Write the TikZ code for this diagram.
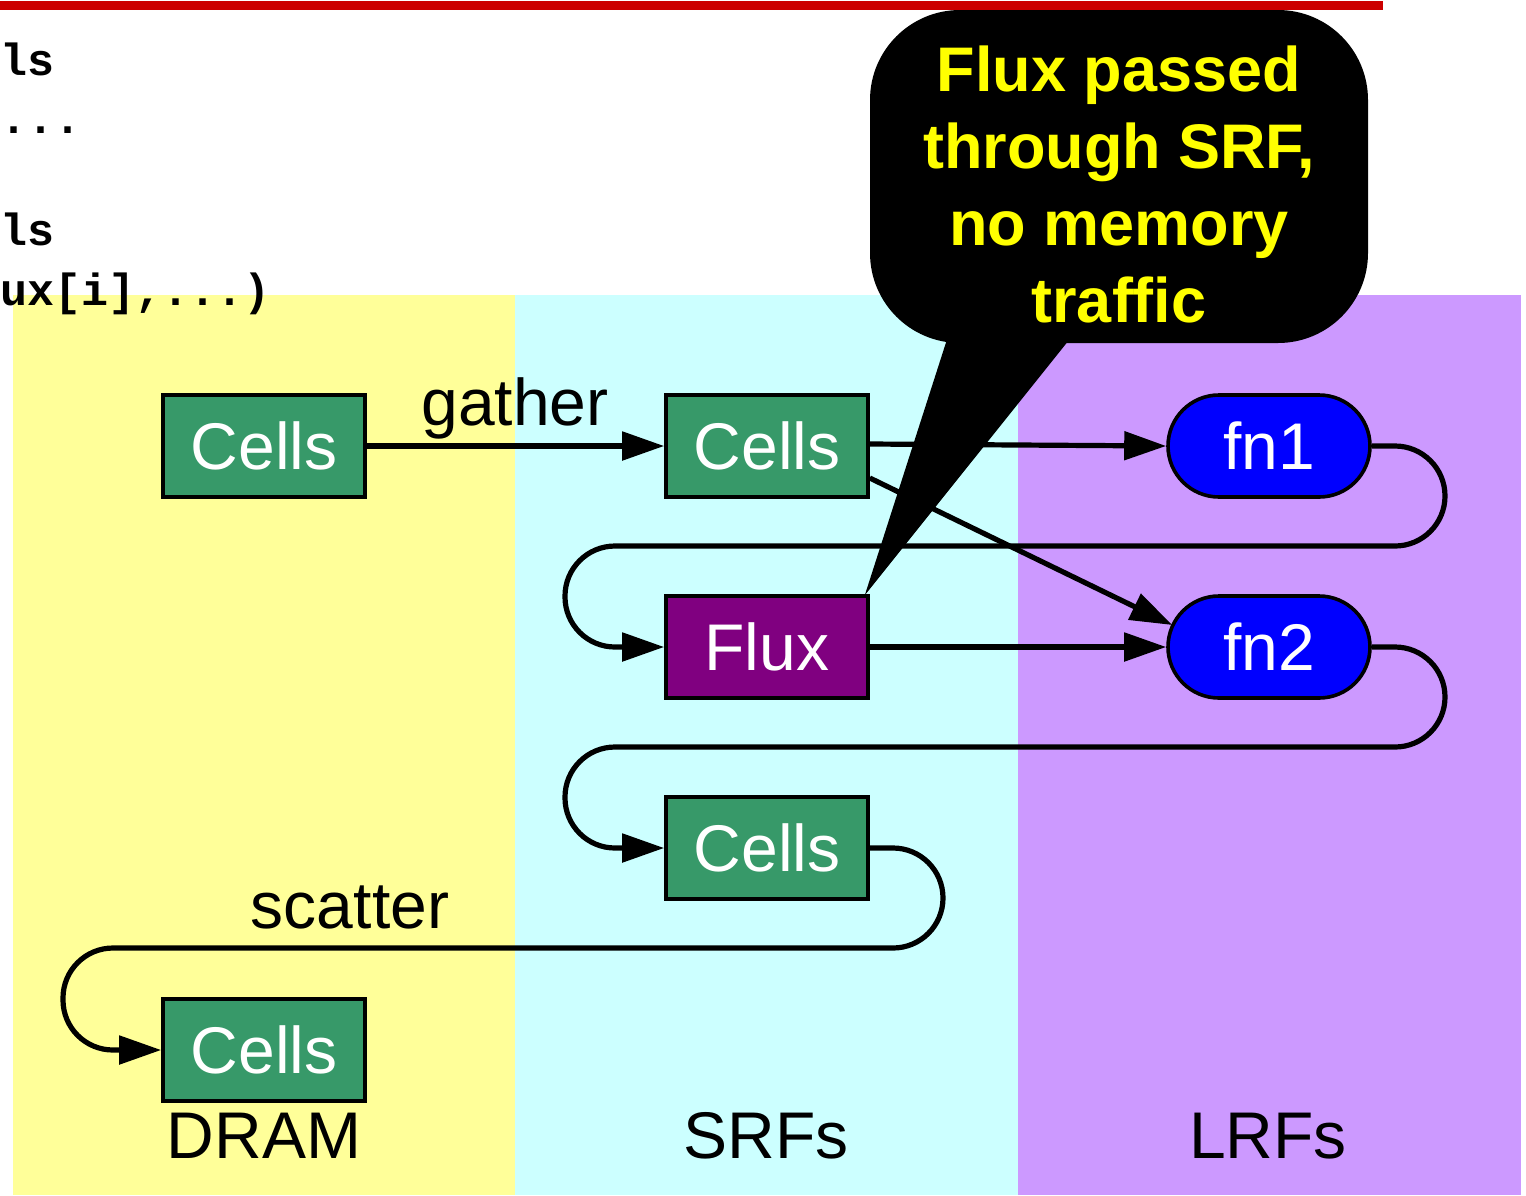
\documentclass[tikz,border=0pt]{standalone}
\usepackage{fontspec}
\setmainfont{Liberation Sans}
\newfontfamily\codefont{Liberation Mono}
\usetikzlibrary{arrows.meta,calc,shapes.misc}
\definecolor{redline}{HTML}{CC0000}
\definecolor{dramcol}{HTML}{FFFF99}
\definecolor{srfcol}{HTML}{CCFFFF}
\definecolor{lrfcol}{HTML}{CC99FF}
\definecolor{cellcol}{HTML}{379969}
\definecolor{fluxcol}{HTML}{800080}
\definecolor{fncol}{HTML}{0000FF}
\definecolor{notetext}{HTML}{FFFF00}
\tikzset{
  box/.style={draw=black, line width=1.8pt, minimum width=101pt, minimum height=51pt,
    inner sep=0pt, text=white, font=\fontsize{33}{40}\selectfont},
  cellbox/.style={box, fill=cellcol},
  fluxbox/.style={box, fill=fluxcol},
  fnbox/.style={box, fill=fncol, rounded rectangle},
  lbl/.style={font=\fontsize{33}{40}\selectfont, inner sep=0pt, anchor=base},
  code/.style={font=\codefont\bfseries\fontsize{22.5}{26}\selectfont, inner sep=0pt, anchor=base west},
  conn/.style={line width=2.6pt, -{Triangle[length=21pt,width=14pt]}, rounded corners=25pt},
  notefont/.style={font=\bfseries\fontsize{31.5}{38.5}\selectfont, text=notetext, align=center, inner sep=0pt}
}
\begin{document}
\begin{tikzpicture}[x=0.5pt,y=-0.5pt]
\useasboundingbox (0,0) rectangle (1526,1195);
\clip (0,0) rectangle (1526,1195);
\fill[white] (0,0) rectangle (1526,1195);
% columns
\fill[dramcol] (13,295) rectangle (515,1195);
\fill[srfcol] (515,295) rectangle (1018,1195);
\fill[lrfcol] (1018,295) rectangle (1521,1195);
% code fragments
\node[code] (code1) at (0,75) {ls};
\node[code] (code2) at (0,133) {...};
\node[code] (code3) at (0,245) {ls};
\node[code] (code4) at (0,305) {ux[i],...)};
% nodes
\node[cellbox] (d1) at (264,446) {Cells};
\node[cellbox] (s1) at (767,446) {Cells};
\node[fluxbox] (flux) at (767,647) {Flux};
\node[cellbox] (s3) at (767,848) {Cells};
\node[cellbox] (d2) at (264,1050) {Cells};
\node[fnbox] (fn1) at (1269,446) {fn1};
\node[fnbox] (fn2) at (1269,647) {fn2};
% labels
\node[lbl] (gather) at (515,425) {gather};
\node[lbl] (scatter) at (350,928) {scatter};
\node[lbl] (dram) at (264,1158) {DRAM};
\node[lbl] (srfs) at (766,1158) {SRFs};
\node[lbl] (lrfs) at (1268,1158) {LRFs};
% connectors
\draw[conn] (d1.east) -- (s1.west);
\draw[conn] ($(s1.east)+(0,-2)$) -- (fn1.west);
\draw[conn, rounded corners=0pt] ($(s1.east)+(0,32)$) -- ($(fn2.west)+(6,-22)$);
\draw[conn] (flux.east) -- (fn2.west);
\draw[conn] (fn1.east) -- (1445,446) -- (1445,546) -- (565,546) -- (565,647) -- (flux.west);
\draw[conn] (fn2.east) -- (1445,647) -- (1445,747) -- (565,747) -- (565,848) -- (s3.west);
\draw[conn] (s3.east) -- (943,848) -- (943,948) -- (63,948) -- (63,1050) -- (d2.west);
% callout
\fill[black, rounded corners=45pt] (870,10) rectangle (1368,343);
\node[notefont] (note) at (1119,184) {Flux passed\\through SRF,\\no memory\\traffic};
\fill[black] (950,330) -- (1077,330) -- ($(flux.north east)+(-5,1)$) -- cycle;
% red rule
\fill[redline] (0,1) rectangle (1383,10);
\end{tikzpicture}
\end{document}
